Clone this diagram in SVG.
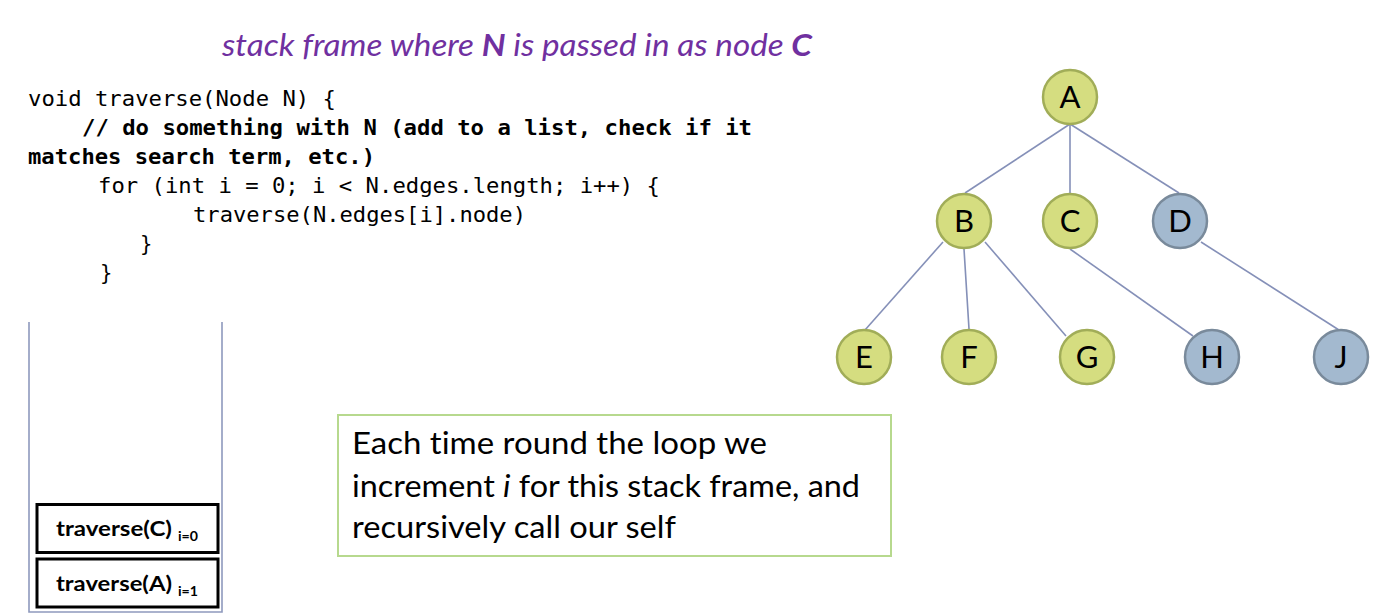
<svg xmlns="http://www.w3.org/2000/svg" width="1374" height="615" viewBox="0 0 1374 615">
  <style>
    text { font-variant-ligatures: none; }
    .title { font-family: "Lato", "Open Sans", sans-serif; font-style: italic; font-size: 31px; fill: #7030a0; }
    .code { font-family: "DejaVu Sans Mono", "Liberation Mono", monospace; font-size: 20.5px; fill: #000; }
    .codeb { font-weight: bold; }
    .stack { stroke: #8e99bd; stroke-width: 1.6; fill: none; }
    .frame { fill: #fff; stroke: #000; stroke-width: 3; }
    .frame-label { font-family: "Lato", "Open Sans", sans-serif; font-weight: bold; font-size: 21px; fill: #000; }
    .sub { font-family: "Lato", "Open Sans", sans-serif; font-weight: bold; font-size: 13px; fill: #000; }
    .note { fill: #fff; stroke: #b7d98e; stroke-width: 2; }
    .note-text { font-family: "Lato", "Open Sans", sans-serif; font-size: 31px; fill: #000; }
    .edge { stroke: #8590b8; stroke-width: 1.6; }
    .green { fill: #d5dd80; stroke: #a1ad58; stroke-width: 2.5; }
    .blue { fill: #a3b9cf; stroke: #798a9b; stroke-width: 2.5; }
    .lbl { font-family: "Lato", "Open Sans", sans-serif; font-size: 31px; fill: #000; text-anchor: middle; }
  </style>

  <!-- heading -->
  <text class="title" x="222" y="56" textLength="590" lengthAdjust="spacingAndGlyphs">stack frame where <tspan font-weight="bold">N</tspan> is passed in as node <tspan font-weight="bold">C</tspan></text>

  <!-- source listing -->
  <g id="code">
    <text class="code" x="28" y="106" textLength="308" lengthAdjust="spacingAndGlyphs">void traverse(Node N) {</text>
    <text class="code codeb" x="82" y="135" textLength="670" lengthAdjust="spacingAndGlyphs">// do something with N (add to a list, check if it</text>
    <text class="code codeb" x="28" y="164" textLength="347" lengthAdjust="spacingAndGlyphs">matches search term, etc.)</text>
    <text class="code" x="98" y="193" textLength="562" lengthAdjust="spacingAndGlyphs">for (int i = 0; i &lt; N.edges.length; i++) {</text>
    <text class="code" x="193" y="222" textLength="333" lengthAdjust="spacingAndGlyphs">traverse(N.edges[i].node)</text>
    <text class="code" x="140" y="251">}</text>
    <text class="code" x="100" y="280">}</text>
  </g>

  <!-- call stack -->
  <g id="stack">
    <path class="stack" d="M29 322 V612 H222 V322"/>
    <g id="frame-c">
      <rect class="frame" x="37" y="504.5" width="181" height="48"/>
      <text class="frame-label" x="56" y="536" textLength="116" lengthAdjust="spacingAndGlyphs">traverse(C)</text>
      <text class="sub" x="178" y="541" textLength="20" lengthAdjust="spacingAndGlyphs">i=0</text>
    </g>
    <g id="frame-a">
      <rect class="frame" x="37" y="559" width="181" height="48"/>
      <text class="frame-label" x="56" y="591" textLength="116" lengthAdjust="spacingAndGlyphs">traverse(A)</text>
      <text class="sub" x="178" y="596" textLength="20" lengthAdjust="spacingAndGlyphs">i=1</text>
    </g>
  </g>

  <!-- explanation box -->
  <g id="note">
    <rect class="note" x="338" y="415" width="553" height="141"/>
    <text class="note-text" x="352" y="454" textLength="415" lengthAdjust="spacingAndGlyphs">Each time round the loop we</text>
    <text class="note-text" x="352" y="497" textLength="508" lengthAdjust="spacingAndGlyphs">increment <tspan font-style="italic">i</tspan> for this stack frame, and</text>
    <text class="note-text" x="352" y="538" textLength="324" lengthAdjust="spacingAndGlyphs">recursively call our self</text>
  </g>

  <!-- tree edges -->
  <g id="edges">
    <line class="edge" x1="1070" y1="124" x2="965" y2="193"/>
    <line class="edge" x1="1070" y1="124" x2="1070" y2="193"/>
    <line class="edge" x1="1070" y1="124" x2="1179" y2="193"/>
    <line class="edge" x1="943" y1="242" x2="865" y2="330"/>
    <line class="edge" x1="964" y1="249" x2="969" y2="329"/>
    <line class="edge" x1="985" y1="242" x2="1066" y2="336"/>
    <line class="edge" x1="1070" y1="249" x2="1193" y2="336"/>
    <line class="edge" x1="1201" y1="242" x2="1339" y2="330"/>
  </g>

  <!-- tree nodes -->
  <g id="node-A"><circle class="green" cx="1070" cy="97" r="27"/><text class="lbl" x="1070" y="108">A</text></g>
  <g id="node-B"><circle class="green" cx="964" cy="221" r="27"/><text class="lbl" x="964" y="232">B</text></g>
  <g id="node-C"><circle class="green" cx="1070" cy="221" r="27"/><text class="lbl" x="1070" y="232">C</text></g>
  <g id="node-D"><circle class="blue" cx="1180" cy="221" r="27"/><text class="lbl" x="1180" y="232">D</text></g>
  <g id="node-E"><circle class="green" cx="864" cy="357" r="27"/><text class="lbl" x="864" y="368">E</text></g>
  <g id="node-F"><circle class="green" cx="969" cy="357" r="27"/><text class="lbl" x="969" y="368">F</text></g>
  <g id="node-G"><circle class="green" cx="1087" cy="357" r="27"/><text class="lbl" x="1087" y="368">G</text></g>
  <g id="node-H"><circle class="blue" cx="1212" cy="357" r="27"/><text class="lbl" x="1212" y="368">H</text></g>
  <g id="node-J"><circle class="blue" cx="1341" cy="357" r="27"/><text class="lbl" x="1341" y="368">J</text></g>
</svg>
